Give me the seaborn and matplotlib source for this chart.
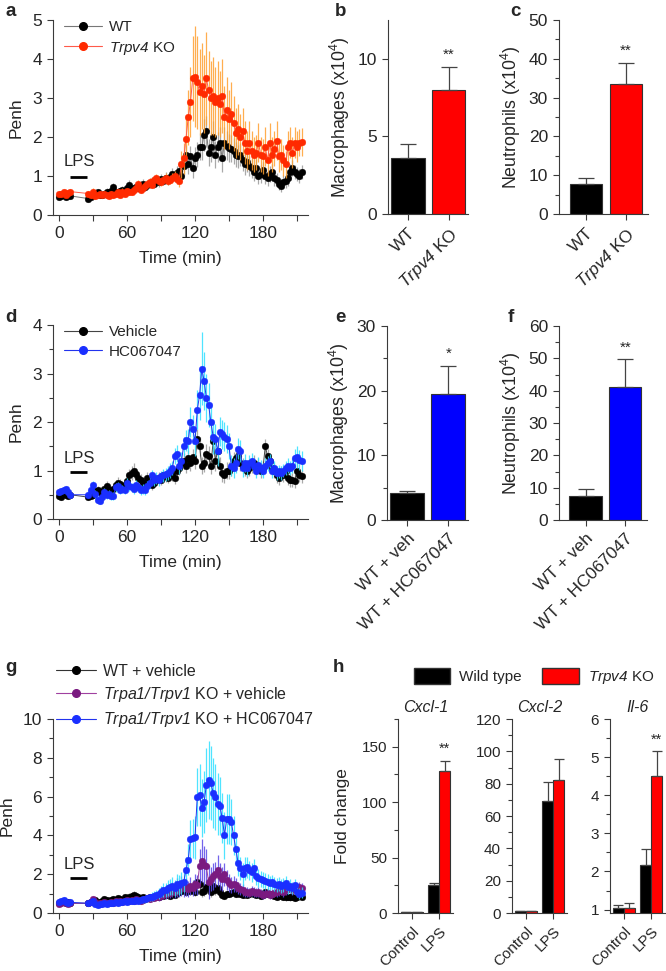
import numpy as np
import pandas as pd
import seaborn as sns
import matplotlib.pyplot as plt
from matplotlib.lines import Line2D
from matplotlib.patches import Patch
from matplotlib.ticker import MultipleLocator

# sampling times (min): baseline block, then post-LPS block
TIME = [0, 2, 4, 6, 8, 10] + list(range(26, 215, 2))
LPS_ON, LPS_OFF = 10, 25

# panel a - Penh, WT vs Trpv4 KO
A_WT = ([0.45, 0.48, 0.5, 0.47, 0.5, 0.49]
        + [0.42, 0.45, 0.5, 0.55, 0.58, 0.52, 0.5, 0.55, 0.6, 0.58]
        + [0.62, 0.72, 0.6, 0.58, 0.62, 0.65, 0.6, 0.68, 0.78, 0.65]
        + [0.7, 0.72, 0.68, 0.75, 0.8, 0.72, 0.78, 0.82, 0.85, 0.8]
        + [0.88, 0.85, 0.92, 0.88, 0.95, 0.9, 0.98, 1.05, 1.0, 1.08]
        + [1.12, 1.0, 1.25, 1.55, 1.3, 1.5, 1.2, 1.45, 1.55, 1.75]
        + [1.75, 2.05, 2.15, 1.6, 1.75, 2.0, 1.55, 1.75, 1.85, 1.45]
        + [1.85, 1.78, 1.72, 1.7, 1.65, 1.55, 1.5, 1.55, 1.4, 1.3]
        + [1.35, 1.25, 1.2, 1.1, 1.2, 1.0, 1.05, 1.15, 1.0, 0.95]
        + [1.05, 1.1, 0.95, 0.9, 0.8, 0.75, 0.85, 0.88, 0.95, 1.1]
        + [1.2, 1.1, 1.05, 1.0, 1.1])
A_WT_ERR = ([0.05, 0.05, 0.05, 0.05, 0.05, 0.05]
            + [0.06, 0.06, 0.06, 0.07, 0.07, 0.06, 0.06, 0.07, 0.08, 0.07]
            + [0.08, 0.1, 0.08, 0.08, 0.08, 0.09, 0.08, 0.1, 0.12, 0.1]
            + [0.1, 0.1, 0.1, 0.11, 0.12, 0.1, 0.11, 0.12, 0.12, 0.12]
            + [0.12, 0.12, 0.13, 0.12, 0.14, 0.13, 0.15, 0.16, 0.15, 0.17]
            + [0.2, 0.18, 0.22, 0.25, 0.25, 0.28, 0.25, 0.3, 0.32, 0.35]
            + [0.35, 0.4, 0.4, 0.35, 0.38, 0.4, 0.35, 0.38, 0.4, 0.35]
            + [0.4, 0.38, 0.36, 0.35, 0.33, 0.32, 0.3, 0.3, 0.28, 0.27]
            + [0.25, 0.25, 0.24, 0.22, 0.24, 0.2, 0.22, 0.22, 0.2, 0.2]
            + [0.2, 0.22, 0.2, 0.18, 0.17, 0.15, 0.17, 0.18, 0.2, 0.2]
            + [0.2, 0.18, 0.18, 0.17, 0.18])
A_KO = ([0.55, 0.55, 0.58, 0.52, 0.56, 0.6]
        + [0.55, 0.5, 0.6, 0.48, 0.5, 0.55, 0.52, 0.55, 0.5, 0.48]
        + [0.55, 0.5, 0.55, 0.58, 0.52, 0.6, 0.55, 0.62, 0.58, 0.6]
        + [0.65, 0.7, 0.8, 0.65, 0.7, 0.75, 0.8, 0.85, 0.78, 0.9]
        + [0.95, 0.88, 0.85, 0.9, 0.95, 0.88, 0.9, 0.95, 1.0, 0.92]
        + [0.88, 1.3, 1.45, 1.95, 2.5, 2.9, 3.5, 3.55, 3.4, 3.15]
        + [3.3, 3.1, 3.5, 3.2, 3.0, 3.05, 2.9, 3.0, 2.85, 3.05]
        + [2.5, 2.7, 2.45, 2.6, 2.35, 2.1, 2.2, 2.0, 2.15, 1.85]
        + [1.65, 1.85, 1.65, 1.55, 1.6, 1.85, 1.55, 1.5, 1.75, 1.4]
        + [1.85, 1.55, 1.7, 1.9, 1.5, 1.55, 1.4, 1.3, 1.75, 1.85]
        + [1.6, 1.85, 1.75, 1.85, 1.87])
A_KO_ERR = ([0.06, 0.07, 0.06, 0.06, 0.07, 0.07]
            + [0.07, 0.06, 0.08, 0.06, 0.06, 0.07, 0.06, 0.07, 0.06, 0.06]
            + [0.07, 0.06, 0.07, 0.07, 0.06, 0.08, 0.07, 0.08, 0.07, 0.08]
            + [0.08, 0.09, 0.1, 0.08, 0.09, 0.09, 0.1, 0.1, 0.09, 0.11]
            + [0.11, 0.1, 0.1, 0.11, 0.12, 0.1, 0.11, 0.12, 0.13, 0.12]
            + [0.15, 0.35, 0.4, 0.5, 0.7, 0.9, 1.1, 1.3, 1.2, 1.1]
            + [1.1, 1.0, 1.2, 1.0, 0.95, 1.0, 0.9, 0.95, 0.85, 0.95]
            + [0.8, 0.85, 0.75, 0.8, 0.7, 0.65, 0.65, 0.6, 0.6, 0.55]
            + [0.5, 0.55, 0.5, 0.45, 0.45, 0.5, 0.45, 0.45, 0.5, 0.4]
            + [0.5, 0.45, 0.45, 0.5, 0.4, 0.4, 0.4, 0.35, 0.4, 0.4]
            + [0.4, 0.4, 0.4, 0.35, 0.35])

# panel d - Penh, vehicle vs HC067047
D_VEH = ([0.48, 0.45, 0.52, 0.5, 0.47, 0.5]
         + [0.45, 0.48, 0.5, 0.58, 0.6, 0.55, 0.52, 0.62, 0.68, 0.6]
         + [0.58, 0.62, 0.7, 0.75, 0.72, 0.65, 0.7, 0.78, 0.9, 0.95]
         + [1.0, 0.92, 0.85, 0.8, 0.75, 0.72, 0.85, 0.8, 0.7, 0.75]
         + [0.8, 0.85, 0.8, 0.9, 0.88, 0.85, 0.95, 0.9, 0.85, 0.98]
         + [1.05, 1.15, 1.2, 1.1, 1.25, 1.15, 1.28, 1.2, 1.65, 1.5]
         + [1.1, 1.15, 1.35, 1.3, 1.1, 1.6, 1.2, 1.4, 1.1, 0.95]
         + [0.9, 1.0, 1.0, 1.05, 1.2, 1.25, 1.3, 1.15, 1.1, 1.05]
         + [1.0, 1.05, 1.1, 1.15, 1.05, 1.1, 1.0, 1.05, 1.5, 1.3]
         + [1.2, 1.05, 1.0, 0.9, 0.85, 0.95, 0.9, 1.0, 0.85, 0.8]
         + [0.8, 0.78, 1.0, 0.9, 0.88])
D_VEH_ERR = ([0.05, 0.05, 0.06, 0.05, 0.05, 0.05]
             + [0.06, 0.06, 0.07, 0.08, 0.08, 0.07, 0.07, 0.08, 0.1, 0.08]
             + [0.08, 0.09, 0.1, 0.12, 0.1, 0.1, 0.1, 0.12, 0.13, 0.15]
             + [0.15, 0.13, 0.12, 0.12, 0.1, 0.1, 0.12, 0.12, 0.1, 0.1]
             + [0.1, 0.12, 0.1, 0.12, 0.12, 0.1, 0.13, 0.12, 0.12, 0.13]
             + [0.15, 0.15, 0.16, 0.15, 0.17, 0.15, 0.17, 0.16, 0.2, 0.2]
             + [0.18, 0.18, 0.2, 0.2, 0.18, 0.22, 0.2, 0.2, 0.18, 0.18]
             + [0.15, 0.17, 0.17, 0.17, 0.18, 0.18, 0.18, 0.17, 0.16, 0.16]
             + [0.15, 0.16, 0.16, 0.16, 0.15, 0.15, 0.15, 0.15, 0.15, 0.15]
             + [0.15, 0.14, 0.15, 0.15, 0.14, 0.14, 0.14, 0.15, 0.14, 0.14]
             + [0.14, 0.14, 0.15, 0.14, 0.14])
D_HC = ([0.55, 0.58, 0.6, 0.62, 0.55, 0.5]
        + [0.5, 0.6, 0.7, 0.52, 0.4, 0.38, 0.45, 0.55, 0.5, 0.52]
        + [0.48, 0.47, 0.65, 0.68, 0.6, 0.62, 0.6, 0.75, 0.68, 0.65]
        + [0.62, 0.7, 0.65, 0.6, 0.62, 0.6, 0.68, 0.75, 0.9, 0.8]
        + [0.85, 0.8, 0.88, 0.9, 0.92, 0.95, 1.0, 1.05, 1.3, 1.35]
        + [1.1, 1.2, 1.5, 1.62, 1.6, 2.0, 1.85, 1.6, 2.25, 2.55]
        + [3.1, 2.85, 2.5, 2.35, 2.0, 1.7, 1.65, 1.4, 1.8, 1.75]
        + [1.7, 1.65, 1.5, 1.1, 1.05, 1.15, 1.45, 1.4, 1.05, 1.15]
        + [1.05, 1.15, 1.2, 1.1, 1.0, 1.12, 1.05, 1.0, 1.1, 1.15]
        + [1.2, 1.0, 1.05, 0.95, 0.98, 0.95, 1.0, 1.05, 1.1, 1.05]
        + [1.1, 1.25, 1.28, 1.22, 1.2])
D_HC_ERR = ([0.06, 0.06, 0.07, 0.06, 0.06, 0.06]
            + [0.07, 0.08, 0.09, 0.08, 0.07, 0.07, 0.07, 0.08, 0.08, 0.08]
            + [0.08, 0.08, 0.09, 0.09, 0.08, 0.09, 0.09, 0.1, 0.1, 0.1]
            + [0.1, 0.1, 0.1, 0.1, 0.1, 0.1, 0.1, 0.11, 0.12, 0.12]
            + [0.12, 0.12, 0.12, 0.13, 0.13, 0.14, 0.15, 0.15, 0.17, 0.18]
            + [0.18, 0.18, 0.2, 0.22, 0.25, 0.3, 0.3, 0.3, 0.4, 0.5]
            + [0.75, 0.6, 0.5, 0.45, 0.4, 0.35, 0.3, 0.3, 0.3, 0.3]
            + [0.3, 0.28, 0.27, 0.22, 0.2, 0.2, 0.22, 0.22, 0.18, 0.18]
            + [0.17, 0.17, 0.17, 0.16, 0.16, 0.16, 0.16, 0.15, 0.15, 0.15]
            + [0.15, 0.15, 0.15, 0.15, 0.14, 0.14, 0.14, 0.15, 0.15, 0.15]
            + [0.15, 0.2, 0.22, 0.2, 0.2])

# panel g - Penh, WT + vehicle / Trpa1/Trpv1 KO + vehicle / Trpa1/Trpv1 KO + HC067047
G_WT = ([0.5, 0.55, 0.6, 0.5, 0.55, 0.5]
        + [0.5, 0.55, 0.6, 0.65, 0.5, 0.55, 0.6, 0.7, 0.65, 0.6]
        + [0.65, 0.7, 0.6, 0.75, 0.7, 0.65, 0.8, 0.7, 0.85, 0.9]
        + [0.95, 0.9, 0.8, 0.75, 0.8, 0.7, 0.75, 0.8, 0.85, 0.8]
        + [0.9, 0.85, 0.95, 0.9, 1.0, 0.95, 0.9, 1.0, 0.95, 1.05]
        + [1.1, 1.15, 1.2, 1.1, 1.25, 1.15, 1.2, 1.1, 1.6, 1.5]
        + [1.1, 1.15, 1.35, 1.3, 1.1, 1.4, 1.2, 1.3, 1.1, 0.95]
        + [0.9, 1.0, 1.0, 1.05, 1.1, 1.0, 1.05, 1.0, 0.95, 1.0]
        + [0.95, 1.0, 1.05, 1.0, 0.95, 1.0, 0.9, 0.95, 1.1, 1.0]
        + [1.0, 0.95, 0.9, 0.85, 0.9, 0.95, 0.85, 0.8, 0.85, 0.8]
        + [0.8, 0.75, 0.85, 0.9, 0.85])
G_WT_ERR = ([0.1, 0.1, 0.1, 0.1, 0.1, 0.1]
            + [0.1, 0.1, 0.12, 0.12, 0.1, 0.1, 0.12, 0.15, 0.12, 0.12]
            + [0.12, 0.15, 0.12, 0.15, 0.15, 0.12, 0.15, 0.15, 0.18, 0.2]
            + [0.2, 0.18, 0.15, 0.15, 0.15, 0.15, 0.15, 0.15, 0.15, 0.15]
            + [0.15, 0.15, 0.18, 0.15, 0.2, 0.18, 0.15, 0.2, 0.18, 0.2]
            + [0.2, 0.2, 0.22, 0.2, 0.22, 0.2, 0.22, 0.2, 0.3, 0.3]
            + [0.25, 0.25, 0.3, 0.3, 0.25, 0.3, 0.25, 0.3, 0.25, 0.2]
            + [0.2, 0.2, 0.2, 0.2, 0.2, 0.2, 0.2, 0.2, 0.2, 0.2]
            + [0.2, 0.2, 0.2, 0.2, 0.2, 0.2, 0.2, 0.2, 0.2, 0.2]
            + [0.18, 0.18, 0.18, 0.18, 0.18, 0.18, 0.18, 0.18, 0.18, 0.18]
            + [0.15, 0.15, 0.15, 0.15, 0.15])
G_DKO = ([0.45, 0.5, 0.55, 0.5, 0.48, 0.5]
         + [0.5, 0.55, 0.7, 0.55, 0.45, 0.5, 0.5, 0.55, 0.5, 0.5]
         + [0.55, 0.5, 0.6, 0.55, 0.6, 0.55, 0.6, 0.65, 0.6, 0.65]
         + [0.6, 0.7, 0.65, 0.6, 0.65, 0.7, 0.75, 0.7, 0.8, 0.75]
         + [0.85, 0.8, 0.9, 0.95, 1.0, 1.1, 1.05, 1.2, 1.1, 1.3]
         + [1.2, 1.4, 1.3, 1.35, 1.25, 1.4, 1.3, 1.5, 1.45, 2.4]
         + [2.7, 2.45, 2.4, 1.6, 1.75, 1.9, 2.0, 2.2, 1.9, 1.75]
         + [2.0, 1.7, 1.55, 1.45, 1.5, 1.45, 1.3, 1.25, 1.2, 1.1]
         + [1.1, 1.05, 1.15, 1.1, 1.05, 1.1, 1.0, 0.95, 1.0, 1.05]
         + [0.95, 1.0, 1.05, 1.1, 1.15, 1.2, 1.1, 1.2, 1.25, 1.3]
         + [1.2, 1.25, 1.3, 1.35, 1.3])
G_DKO_ERR = ([0.1, 0.1, 0.1, 0.1, 0.1, 0.1]
             + [0.1, 0.1, 0.1, 0.1, 0.1, 0.1, 0.1, 0.1, 0.1, 0.1]
             + [0.12, 0.12, 0.12, 0.12, 0.12, 0.12, 0.12, 0.12, 0.12, 0.12]
             + [0.15, 0.15, 0.15, 0.15, 0.15, 0.15, 0.15, 0.15, 0.15, 0.15]
             + [0.2, 0.2, 0.22, 0.25, 0.3, 0.35, 0.3, 0.4, 0.35, 0.5]
             + [0.4, 0.5, 0.45, 0.45, 0.4, 0.45, 0.4, 0.5, 0.5, 0.9]
             + [1.1, 1.0, 0.9, 0.9, 0.6, 0.7, 0.65, 0.8, 0.7, 0.6]
             + [0.6, 0.5, 0.45, 0.4, 0.4, 0.35, 0.3, 0.3, 0.3, 0.25]
             + [0.25, 0.25, 0.25, 0.25, 0.25, 0.25, 0.25, 0.25, 0.25, 0.25]
             + [0.25, 0.25, 0.25, 0.25, 0.25, 0.25, 0.25, 0.25, 0.25, 0.25]
             + [0.25, 0.25, 0.25, 0.25, 0.25])
G_HC = ([0.55, 0.6, 0.65, 0.55, 0.5, 0.55]
        + [0.5, 0.55, 0.6, 0.45, 0.4, 0.45, 0.45, 0.5, 0.45, 0.5]
        + [0.5, 0.5, 0.55, 0.5, 0.55, 0.55, 0.6, 0.55, 0.6, 0.6]
        + [0.6, 0.65, 0.6, 0.65, 0.7, 0.7, 0.75, 0.8, 0.85, 0.9]
        + [0.95, 1.0, 1.1, 1.2, 1.2, 1.3, 1.35, 1.4, 1.3, 1.5]
        + [1.45, 1.55, 1.6, 2.2, 2.75, 3.8, 3.85, 3.9, 6.0, 6.1]
        + [5.4, 5.7, 6.6, 6.85, 6.7, 6.2, 6.0, 5.6, 5.5, 4.9]
        + [4.0, 4.85, 4.85, 4.7, 4.0, 3.3, 2.6, 2.3, 2.0, 2.3]
        + [2.35, 2.2, 2.1, 2.3, 1.9, 1.8, 1.75, 1.7, 1.65, 1.6]
        + [1.55, 1.6, 1.5, 1.45, 1.5, 1.4, 1.45, 1.55, 1.35, 1.4]
        + [1.3, 1.45, 1.1, 1.0, 1.05])
G_HC_ERR = ([0.15, 0.15, 0.15, 0.15, 0.15, 0.15]
            + [0.12, 0.12, 0.12, 0.12, 0.12, 0.12, 0.12, 0.12, 0.12, 0.12]
            + [0.12, 0.12, 0.12, 0.12, 0.12, 0.12, 0.12, 0.12, 0.12, 0.12]
            + [0.15, 0.15, 0.15, 0.15, 0.18, 0.18, 0.2, 0.2, 0.22, 0.25]
            + [0.25, 0.3, 0.3, 0.35, 0.35, 0.4, 0.4, 0.45, 0.4, 0.5]
            + [0.5, 0.55, 0.5, 0.7, 0.8, 1.0, 1.0, 1.1, 1.5, 1.6]
            + [1.5, 1.6, 1.9, 2.0, 1.9, 1.8, 1.7, 1.6, 1.5, 1.3]
            + [1.2, 1.3, 1.3, 1.2, 1.0, 0.8, 0.7, 0.6, 0.6, 0.6]
            + [0.55, 0.5, 0.5, 0.5, 0.45, 0.45, 0.4, 0.4, 0.4, 0.4]
            + [0.35, 0.35, 0.35, 0.35, 0.35, 0.35, 0.35, 0.35, 0.35, 0.35]
            + [0.3, 0.3, 0.3, 0.3, 0.3])

# panels b/c - BAL cells, WT vs Trpv4 KO
BC_GROUPS = ["WT", "Trpv4 KO"]
BC_TICKS = ["WT", r"$Trpv4$ KO"]
MAC_B = [3.6, 8.0]
MAC_B_ERR = [0.9, 1.5]
NEU_C = [7.8, 33.5]
NEU_C_ERR = [1.4, 5.5]

# panels e/f - BAL cells, vehicle vs HC067047
EF_GROUPS = ["WT + veh", "WT + HC067047"]
MAC_E = [4.1, 19.5]
MAC_E_ERR = [0.4, 4.3]
NEU_F = [7.5, 41.0]
NEU_F_ERR = [2.2, 8.7]

# panel h - fold change (Control, LPS)
H_CONDS = ["Control", "LPS"]
H_GENOS = ["Wild type", "Trpv4 KO"]
CXCL1_WT, CXCL1_WT_ERR = [1.0, 25.5], [0.3, 1.5]
CXCL1_KO, CXCL1_KO_ERR = [1.0, 128.0], [0.3, 9.5]
CXCL2_WT, CXCL2_WT_ERR = [1.0, 69.0], [0.2, 12.0]
CXCL2_KO, CXCL2_KO_ERR = [1.0, 82.0], [0.2, 13.5]
IL6_WT, IL6_WT_ERR = [1.03, 2.17], [0.1, 0.42]
IL6_KO, IL6_KO_ERR = [1.03, 4.5], [0.14, 0.65]

W, H = 666, 971
SPINE = "#3a3a3a"

sns.set_style("ticks")
plt.rcParams["font.family"] = ["Liberation Sans", "DejaVu Sans"]
# gene names go through mathtext fully italic; upright superscripts use \mathsf
plt.rcParams["mathtext.fontset"] = "custom"
plt.rcParams["mathtext.rm"] = "Liberation Sans:italic"
plt.rcParams["mathtext.it"] = "Liberation Sans:italic"
plt.rcParams["mathtext.sf"] = "Liberation Sans"
plt.rcParams["mathtext.bf"] = "Liberation Sans:bold"

fig = plt.figure(figsize=(W / 100, H / 100), dpi=100)


def px_axes(left, top, right, bottom):
    return fig.add_axes([left / W, 1 - bottom / H, (right - left) / W, (bottom - top) / H])


def style(ax, labelsize=12.5):
    sns.despine(ax=ax)
    for s in ["left", "bottom"]:
        ax.spines[s].set_color(SPINE)
        ax.spines[s].set_linewidth(0.8)
    ax.tick_params(which="both", direction="out", color=SPINE, width=0.8, labelsize=labelsize, pad=4)
    ax.tick_params(which="major", length=4)
    ax.tick_params(which="minor", length=3)


def penh_panel(ax, series, ymax, ystep, yminor, lps_y, lps_txt_y, legend_at, legend_fs):
    handles = []
    for i, (vals, errs, mcol, lcol, ecol, label) in enumerate(series):
        ax.errorbar(TIME, vals, yerr=errs, fmt="none", ecolor=ecol, elinewidth=0.9,
                    capsize=0, alpha=0.85, zorder=2 + 2 * i)
        sns.lineplot(x=TIME, y=vals, ax=ax, color=lcol, linewidth=0.7, marker="o",
                     markersize=4.8, markerfacecolor=mcol, markeredgecolor=mcol,
                     markeredgewidth=0.3, errorbar=None, zorder=3 + 2 * i)
        handles.append(Line2D([], [], color=lcol, lw=0.8, marker="o", markersize=5.5,
                              markerfacecolor=mcol, markeredgecolor=mcol, label=label))
    ax.plot([LPS_ON, LPS_OFF], [lps_y, lps_y], color="black", lw=2, solid_capstyle="butt")
    ax.text((LPS_ON + LPS_OFF) / 2, lps_txt_y, "LPS", ha="center", va="center", fontsize=12)
    ax.set_xlim(-5.3, 219.7)
    ax.set_ylim(0, ymax)
    ax.xaxis.set_major_locator(MultipleLocator(60))
    ax.xaxis.set_minor_locator(MultipleLocator(30))
    ax.yaxis.set_major_locator(MultipleLocator(ystep))
    if yminor:
        ax.yaxis.set_minor_locator(MultipleLocator(yminor))
    ax.set_xlabel("Time (min)", fontsize=12.5, labelpad=7)
    ax.set_ylabel("Penh", fontsize=12.5, labelpad=6)
    style(ax)
    ax.tick_params(axis="x", which="minor", length=4)
    fig.legend(handles=handles, loc="upper left", bbox_to_anchor=legend_at, frameon=False,
               fontsize=legend_fs, handlelength=2.5, handletextpad=0.45, labelspacing=0.38,
               borderpad=0, borderaxespad=0)


def bar_panel(ax, groups, ticks, vals, errs, colors, ylim, major, minor, star, ylabel, xlim):
    df = pd.DataFrame({"group": groups, "value": vals})
    sns.barplot(data=df, x="group", y="value", hue="group", order=groups, hue_order=groups,
                palette=dict(zip(groups, colors)), saturation=1, legend=False, width=0.82,
                edgecolor="#333333", linewidth=0.8, ax=ax)
    bars = [b for c in ax.containers for b in c]
    for bar, e in zip(bars, errs):
        xc = bar.get_x() + bar.get_width() / 2
        ax.errorbar(xc, bar.get_height(), yerr=[[0], [e]], fmt="none", ecolor="#444444",
                    elinewidth=0.9, capsize=6, capthick=0.9, zorder=1)
    top = bars[1].get_height() + errs[1]
    ax.text(bars[1].get_x() + bars[1].get_width() / 2, top + (ylim[1] - ylim[0]) * 0.025,
            star, ha="center", va="bottom", fontsize=11)
    ax.set_ylim(*ylim)
    ax.set_xlim(*xlim)
    ax.yaxis.set_major_locator(MultipleLocator(major))
    if minor:
        ax.yaxis.set_minor_locator(MultipleLocator(minor))
    ax.set_xticks([0, 1])
    ax.set_xticklabels(ticks, rotation=45, ha="right", rotation_mode="anchor")
    ax.set_xlabel("")
    ax.set_ylabel(ylabel, fontsize=12.8, labelpad=4)
    style(ax)


def gene_panel(ax, title, wt, wt_err, ko, ko_err, ylim, major, minor, star):
    df = pd.DataFrame({"cond": H_CONDS * 2,
                       "geno": [H_GENOS[0]] * 2 + [H_GENOS[1]] * 2,
                       "value": wt + ko})
    sns.barplot(data=df, x="cond", y="value", hue="geno", order=H_CONDS, hue_order=H_GENOS,
                palette={"Wild type": "black", "Trpv4 KO": "#ff0000"}, saturation=1,
                legend=False, width=0.8, edgecolor="#333333", linewidth=0.8, ax=ax)
    for cont, errs in zip(ax.containers, [wt_err, ko_err]):
        for bar, e in zip(cont, errs):
            xc = bar.get_x() + bar.get_width() / 2
            ax.errorbar(xc, bar.get_height(), yerr=[[0], [e]], fmt="none", ecolor="#444444",
                        elinewidth=0.9, capsize=3.5, capthick=0.9, zorder=1)
    if star:
        kb = ax.containers[1][1]
        ax.text(kb.get_x() + kb.get_width() / 2, ko[1] + ko_err[1] + (ylim[1] - ylim[0]) * 0.025,
                star, ha="center", va="bottom", fontsize=10.5)
    ax.set_ylim(*ylim)
    ax.set_xlim(-0.5, 1.5)
    ax.yaxis.set_major_locator(MultipleLocator(major))
    ax.yaxis.set_minor_locator(MultipleLocator(minor))
    ax.set_xticks([0, 1])
    ax.set_xticklabels(H_CONDS, rotation=45, ha="right", rotation_mode="anchor")
    ax.set_xlabel("")
    ax.set_ylabel("")
    ax.set_title(title, style="italic", fontsize=11.5, pad=5)
    style(ax, labelsize=11)


# a
ax_a = px_axes(53, 20, 308, 215)
penh_panel(ax_a, [(A_WT, A_WT_ERR, "black", "#777777", "#9a9a9a", "WT"),
                  (A_KO, A_KO_ERR, "#ff2a00", "#ff5a4a", "#ffa030", r"$Trpv4$ KO")],
           5, 1, None, 0.97, 1.38, (64 / W, 1 - 20 / H), 11)

# d
ax_d = px_axes(53, 325, 308, 519)
penh_panel(ax_d, [(D_VEH, D_VEH_ERR, "black", "#444444", "#9a9a9a", "Vehicle"),
                  (D_HC, D_HC_ERR, "#1a2fff", "#2233ee", "#30e0ff", "HC067047")],
           4, 1, 0.5, 0.97, 1.24, (64 / W, 1 - 325 / H), 11)

# g
ax_g = px_axes(53, 719, 308, 913)
penh_panel(ax_g, [(G_WT, G_WT_ERR, "black", "#333333", "#8a8a8a", "WT + vehicle"),
                  (G_DKO, G_DKO_ERR, "#7a1a80", "#a040a0", "#5a48e8",
                   r"$Trpa1/Trpv1$ KO + vehicle"),
                  (G_HC, G_HC_ERR, "#1a2fff", "#2233ee", "#30e0ff",
                   r"$Trpa1/Trpv1$ KO + HC067047")],
           10, 2, 1, 1.8, 2.5, (56 / W, 1 - 664 / H), 11.5)

# b, c
bar_panel(px_axes(388, 20, 468, 214), BC_GROUPS, BC_TICKS, MAC_B, MAC_B_ERR,
          ["black", "#ff0000"], (0, 12.5), 5, None, "**",
          r"Macrophages (x10$^\mathsf{4}$)", (-0.49, 1.48))
bar_panel(px_axes(559, 20, 648, 214), BC_GROUPS, BC_TICKS, NEU_C, NEU_C_ERR,
          ["black", "#ff0000"], (0, 50), 10, 5, "**",
          r"Neutrophils (x10$^\mathsf{4}$)", (-0.675, 1.55))

# e, f
bar_panel(px_axes(387, 326, 468, 520), EF_GROUPS, EF_GROUPS, MAC_E, MAC_E_ERR,
          ["black", "#0000ff"], (0, 30), 10, 5, "*",
          r"Macrophages (x10$^\mathsf{4}$)", (-0.49, 1.48))
bar_panel(px_axes(559, 326, 647, 520), EF_GROUPS, EF_GROUPS, NEU_F, NEU_F_ERR,
          ["black", "#0000ff"], (0, 60), 10, 5, "**",
          r"Neutrophils (x10$^\mathsf{4}$)", (-0.675, 1.55))

# h
ax_h1 = px_axes(398, 719, 453, 913)
gene_panel(ax_h1, "Cxcl-1", CXCL1_WT, CXCL1_WT_ERR, CXCL1_KO, CXCL1_KO_ERR, (0, 175), 50, 25, "**")
ax_h1.set_ylabel("Fold change", fontsize=12.5, labelpad=8)
ax_h2 = px_axes(512, 719, 567, 913)
gene_panel(ax_h2, "Cxcl-2", CXCL2_WT, CXCL2_WT_ERR, CXCL2_KO, CXCL2_KO_ERR, (0, 120), 20, 10, None)
ax_h3 = px_axes(610, 719, 665, 913)
gene_panel(ax_h3, "Il-6", IL6_WT, IL6_WT_ERR, IL6_KO, IL6_KO_ERR, (0.91, 6), 1, 0.5, "**")

fig.legend(handles=[Patch(facecolor="black", edgecolor="#333333", label="Wild type"),
                    Patch(facecolor="#ff0000", edgecolor="#333333", label=r"$Trpv4$ KO")],
           loc="center", bbox_to_anchor=(534 / W, 1 - 677 / H), ncol=2, frameon=False,
           fontsize=11, handlelength=2.4, handleheight=1.25, columnspacing=1.3,
           handletextpad=0.6, borderpad=0)

for letter, x, y in [("a", 5, 12), ("b", 335, 12), ("c", 510, 12), ("d", 5, 318),
                     ("e", 335, 318), ("f", 508, 318), ("g", 5, 667), ("h", 333, 667)]:
    fig.text(x / W, 1 - y / H, letter, fontsize=13.5, fontweight="bold", va="center", ha="left")

fig.savefig("out.png", dpi=100)
